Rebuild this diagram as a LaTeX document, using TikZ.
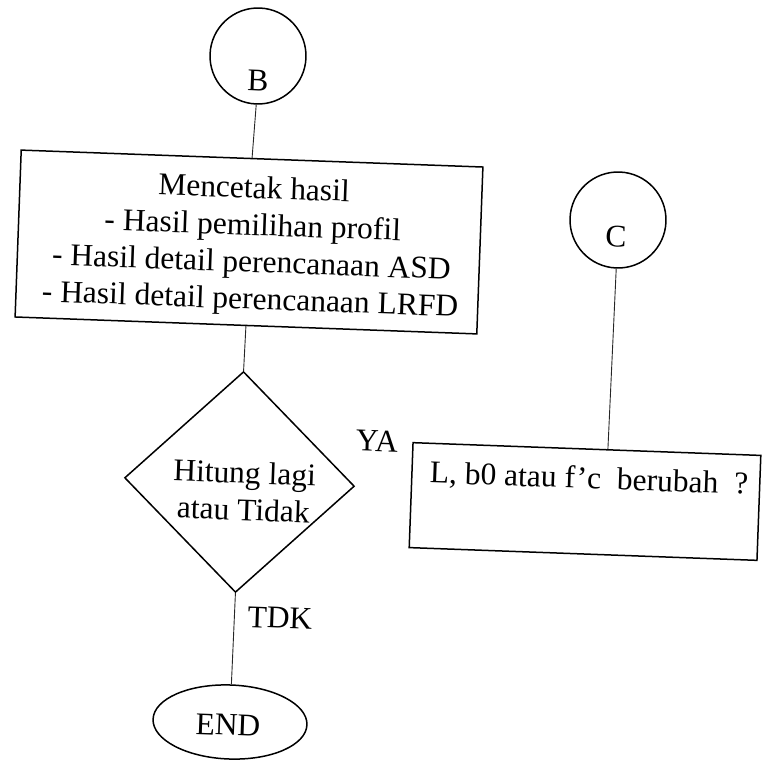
\documentclass[tikz,border=0pt]{standalone}
\usepackage{fontspec}
\setmainfont{Liberation Serif}
\usetikzlibrary{shapes.geometric,calc}
\begin{document}
\begin{tikzpicture}[x=1pt,y=-1pt,
  rot/.style={rotate=-2.1},
  shapeline/.style={draw=black, line width=1.5pt},
  conn/.style={draw=black!85, line width=0.9pt},
  txt/.style={rot, inner sep=0pt, font=\fontsize{31.5}{37}\selectfont, align=center},
  termc/.style={shapeline, rot, circle, minimum size=96pt, inner sep=0pt},
  procbox/.style={shapeline, rot, rectangle, inner sep=0pt},
  decide/.style={shapeline, rot, diamond, inner sep=0pt},
  endell/.style={shapeline, rot, ellipse, inner sep=0pt}]
\useasboundingbox (0,0) rectangle (762,760);
\node[termc] (B) at (258,56) {};
\node[txt] (Bt) at (258,81) {B};
\node[procbox, minimum width=462pt, minimum height=167pt] (M) at (249,242) {};
\node[txt] (Mt) at (252,246) {Mencetak hasil\\- Hasil pemilihan profil\\- Hasil detail perencanaan ASD\\- Hasil detail perencanaan LRFD};
\node[termc] (C) at (618,220) {};
\node[txt] (Ct) at (616,237) {C};
\node[decide, minimum width=230pt, minimum height=221pt] (D) at (239.5,482) {};
\node[txt] (Dt) at (244,491) {Hitung lagi\\atau Tidak};
\node[procbox, minimum width=348pt, minimum height=105pt] (L) at (585,501.5) {};
\node[txt] (Lt) at (589,480) {L, b0 atau f’c\ \ berubah\ \ ?};
\node[endell, minimum width=154pt, minimum height=74pt] (E) at (230,722) {};
\node[txt] (Et) at (228,725) {END};
\node[txt] (ya) at (377,441) {YA};
\node[txt] (tdk) at (280,618) {TDK};
\coordinate (Ltop) at ($(L.north west)!0.56!(L.north east)$);
\draw[conn] (B.south) -- (M.north);
\draw[conn] (M.south) -- (D.north);
\draw[conn] (D.south) -- (E.north);
\draw[conn] (C.south) -- (Ltop);
\end{tikzpicture}
\end{document}
